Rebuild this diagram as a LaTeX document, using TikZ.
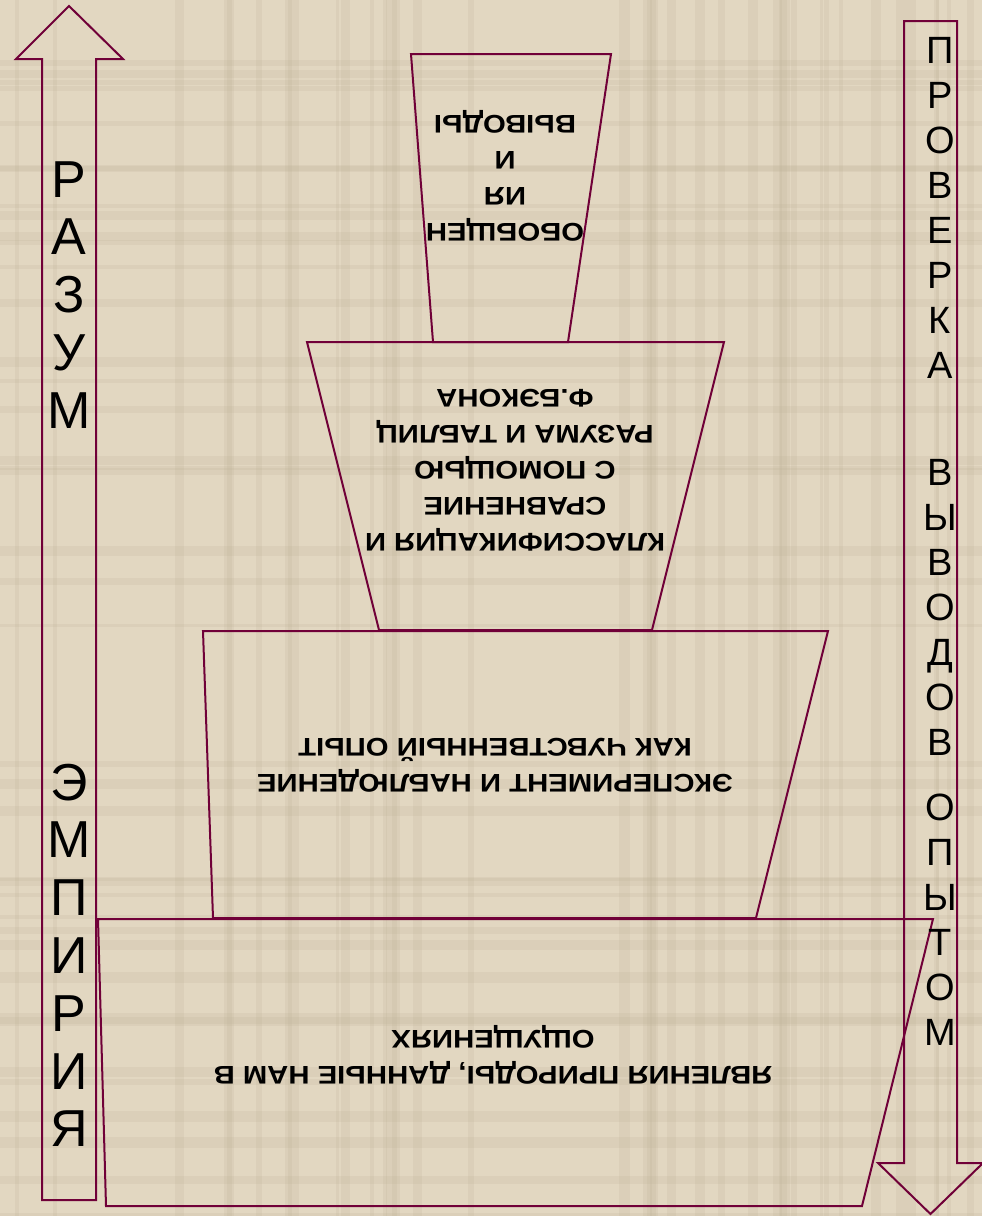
\documentclass[tikz,border=0pt]{standalone}
\usepackage{fontspec}
\setmainfont{Liberation Sans}

\definecolor{kant}{RGB}{112,0,56}
\definecolor{fon}{RGB}{226,215,193}
\definecolor{polosa}{RGB}{190,176,150}

\tikzset{
  rand/.style={draw=kant, line width=2pt, line join=miter},
  stup/.style={rotate=180, yscale=0.87, align=center, inner sep=0pt,
    font=\bfseries\fontsize{29.3}{41.4}\selectfont},
  bukva/.style={anchor=base, inner sep=0pt, font=\fontsize{52}{52}\selectfont},
  bukvam/.style={anchor=base, inner sep=0pt, font=\fontsize{38}{38}\selectfont},
}

\begin{document}
\begin{tikzpicture}[x=1pt,y=-1pt]
        \useasboundingbox (0,0) rectangle (982,1216);
        % Фон
        \fill[fon] (0,0) rectangle (982,1216);
        \pgfmathsetseed{7}
        \foreach \i in {1,...,40}
            \fill[polosa, opacity=0.18] (0,{rnd*1216}) rectangle +(982,{3+rnd*8});
        \foreach \i in {1,...,40}
            \fill[polosa, opacity=0.18] ({rnd*982},0) rectangle +({3+rnd*8},1216);

        % Стрелки
        \draw[rand] (42,1200) -- (42,59) -- (16,59) -- (69,6) -- (123,59)
            -- (96,59) -- (96,1200) -- cycle;
        \draw[rand] (904,21) -- (957,21) -- (957,1163) -- (983,1163)
            -- (930.5,1214) -- (878,1163) -- (904,1163) -- cycle;

        % Ступени
        \draw[rand] (411,54) -- (611,54) -- (568,342) -- (433,342) -- cycle;
        \draw[rand] (307,342) -- (724,342) -- (652,630) -- (379,630) -- cycle;
        \draw[rand] (203,631) -- (828,631) -- (756,918) -- (213,918) -- cycle;
        \draw[rand] (98,919) -- (933,919) -- (862,1206) -- (106,1206) -- cycle;

        % Подписи ступеней
        \node[stup] (vyvody) at (505,176) {ОБОБЩЕН\\ИЯ\\И\\ВЫВОДЫ};
        \node[stup] (klass) at (515,470)
            {КЛАССИФИКАЦИЯ И\\СРАВНЕНИЕ\\С ПОМОЩЬЮ\\РАЗУМА И ТАБЛИЦ\\Ф.БЭКОНА};
        \node[stup] (opyt) at (495,765)
            {ЭКСПЕРИМЕНТ И НАБЛЮДЕНИЕ\\КАК ЧУВСТВЕННЫЙ ОПЫТ};
        \node[stup] (yavl) at (493,1055)
            {ЯВЛЕНИЯ ПРИРОДЫ, ДАННЫЕ НАМ В\\ОЩУЩЕНИЯХ};

        % Буквы на стрелках
        \foreach \b [count=\i from 0] in {Р,А,З,У,М}
            \node[bukva] (razum\i) at (69,{197+57.8*\i}) {\b};
        \foreach \b [count=\i from 0] in {Э,М,П,И,Р,И,Я}
            \node[bukva] (empir\i) at (69,{800+57.8*\i}) {\b};
        \foreach \b [count=\i from 0] in {П,Р,О,В,Е,Р,К,А}
            \node[bukvam] (prov\i) at (940,{63.5+45*\i}) {\b};
        \foreach \b [count=\i from 0] in {В,Ы,В,О,Д,О,В}
            \node[bukvam] (vyv\i) at (940,{485.5+45*\i}) {\b};
        \foreach \b [count=\i from 0] in {О,П,Ы,Т,О,М}
            \node[bukvam] (opytom\i) at (940,{820.5+45*\i}) {\b};
    \end{tikzpicture}
\end{document}
